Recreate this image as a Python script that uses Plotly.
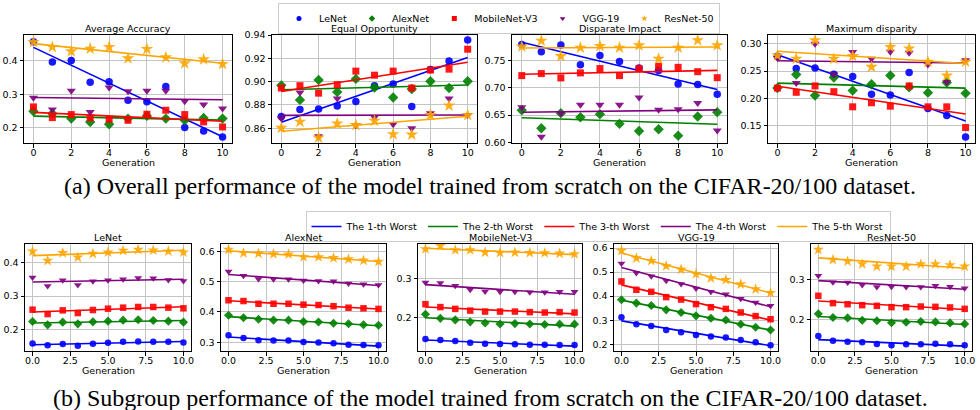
import numpy as np
import plotly.graph_objects as go

# ---------------- data ----------------
generations = list(range(11))
models = ["LeNet", "AlexNet", "MobileNet-V3", "VGG-19", "ResNet-50"]
worst_labels = ["The 1-th Worst", "The 2-th Worst", "The 3-th Worst", "The 4-th Worst", "The 5-th Worst"]
top_titles = ["Average Accuracy", "Equal Opportunity", "Disparate Impact", "Maximum disparity"]
bottom_titles = ["LeNet", "AlexNet", "MobileNet-V3", "VGG-19", "ResNet-50"]

# Top row: rows = LeNet, AlexNet, MobileNet-V3, VGG-19, ResNet-50
avg_accuracy = [
    [0.457, 0.396, 0.401, 0.336, 0.337, 0.282, 0.277, 0.323, 0.200, 0.190, 0.172],
    [0.249, 0.242, 0.227, 0.217, 0.210, 0.227, 0.235, 0.227, 0.222, 0.229, 0.227],
    [0.262, 0.230, 0.239, 0.229, 0.225, 0.222, 0.240, 0.252, 0.239, 0.217, 0.202],
    [0.289, 0.254, 0.310, 0.247, 0.320, 0.309, 0.310, 0.310, 0.279, 0.269, 0.257],
    [0.456, 0.441, 0.428, 0.436, 0.441, 0.407, 0.435, 0.410, 0.392, 0.404, 0.390],
]
equal_opportunity = [
    [0.870, 0.876, 0.8765, 0.879, 0.883, 0.8965, 0.898, 0.8786, 0.9104, 0.9177, 0.9357],
    [0.8968, 0.8843, 0.9014, 0.891, 0.9023, 0.895, 0.8864, 0.8936, 0.9003, 0.8945, 0.9003],
    [0.8945, 0.8965, 0.8901, 0.8974, 0.909, 0.9055, 0.909, 0.8945, 0.9099, 0.9107, 0.9278],
    [0.8684, 0.8907, 0.853, 0.8855, 0.8625, 0.8693, 0.8635, 0.860, 0.8728, 0.8855, 0.8713],
    [0.8603, 0.8655, 0.8519, 0.864, 0.8626, 0.8664, 0.8548, 0.8545, 0.8713, 0.8794, 0.8713],
]
disparate_impact = [
    [0.780, 0.7667, 0.779, 0.7426, 0.7599, 0.7488, 0.737, 0.732, 0.7074, 0.7062, 0.6883],
    [0.659, 0.626, 0.6537, 0.6463, 0.6519, 0.634, 0.621, 0.624, 0.6123, 0.6475, 0.6556],
    [0.7228, 0.7265, 0.7185, 0.7278, 0.7358, 0.7228, 0.7358, 0.740, 0.738, 0.730, 0.719],
    [0.6648, 0.6105, 0.6537, 0.669, 0.669, 0.669, 0.6827, 0.6599, 0.661, 0.6722, 0.6216],
    [0.7762, 0.787, 0.7586, 0.7741, 0.7772, 0.7741, 0.7784, 0.7537, 0.7741, 0.7877, 0.7784],
]
maximum_disparity = [
    [0.277, 0.2549, 0.2555, 0.2444, 0.2402, 0.2076, 0.2064, 0.2475, 0.1818, 0.169, 0.1297],
    [0.2191, 0.2437, 0.2056, 0.2383, 0.2144, 0.226, 0.242, 0.2205, 0.2107, 0.2291, 0.2094],
    [0.219, 0.2113, 0.223, 0.2125, 0.1848, 0.1922, 0.186, 0.223, 0.1848, 0.1848, 0.1469],
    [0.2742, 0.2281, 0.300, 0.2437, 0.2849, 0.2725, 0.2855, 0.2837, 0.2621, 0.2301, 0.2701],
    [0.2785, 0.2725, 0.3063, 0.2725, 0.2774, 0.2577, 0.294, 0.2914, 0.267, 0.2418, 0.267],
]

# Bottom row: rows = 1-th .. 5-th worst subgroup
sub_lenet = [
    [0.160, 0.1545, 0.158, 0.153, 0.159, 0.162, 0.165, 0.166, 0.165, 0.165, 0.163],
    [0.2248, 0.215, 0.223, 0.218, 0.224, 0.226, 0.229, 0.230, 0.228, 0.226, 0.223],
    [0.260, 0.247, 0.258, 0.250, 0.259, 0.263, 0.266, 0.268, 0.268, 0.266, 0.264],
    [0.3555, 0.330, 0.347, 0.333, 0.344, 0.347, 0.350, 0.354, 0.353, 0.348, 0.345],
    [0.4327, 0.405, 0.428, 0.415, 0.426, 0.430, 0.435, 0.438, 0.436, 0.433, 0.430],
]
sub_alexnet = [
    [0.323, 0.314, 0.307, 0.306, 0.306, 0.301, 0.299, 0.297, 0.292, 0.291, 0.290],
    [0.389, 0.381, 0.376, 0.373, 0.373, 0.368, 0.367, 0.363, 0.361, 0.358, 0.356],
    [0.4386, 0.436, 0.427, 0.427, 0.427, 0.424, 0.423, 0.419, 0.414, 0.412, 0.410],
    [0.533, 0.519, 0.509, 0.508, 0.508, 0.504, 0.502, 0.501, 0.494, 0.491, 0.489],
    [0.6055, 0.594, 0.593, 0.591, 0.590, 0.581, 0.581, 0.578, 0.574, 0.570, 0.566],
]
sub_mobilenet = [
    [0.1448, 0.142, 0.1397, 0.1353, 0.1328, 0.132, 0.131, 0.130, 0.130, 0.129, 0.129],
    [0.2086, 0.198, 0.194, 0.189, 0.186, 0.1836, 0.1845, 0.1836, 0.182, 0.183, 0.183],
    [0.2345, 0.227, 0.2224, 0.218, 0.2155, 0.2155, 0.2155, 0.214, 0.213, 0.214, 0.213],
    [0.2905, 0.289, 0.282, 0.2716, 0.2673, 0.2664, 0.2664, 0.2655, 0.2655, 0.2664, 0.2664],
    [0.3767, 0.3853, 0.3741, 0.3741, 0.368, 0.3672, 0.368, 0.3672, 0.3664, 0.3655, 0.3638],
]
sub_vgg = [
    [0.3125, 0.283, 0.276, 0.259, 0.250, 0.239, 0.232, 0.228, 0.218, 0.208, 0.196],
    [0.385, 0.371, 0.361, 0.343, 0.332, 0.318, 0.308, 0.301, 0.283, 0.271, 0.259],
    [0.4611, 0.4264, 0.418, 0.396, 0.386, 0.367, 0.354, 0.347, 0.332, 0.317, 0.304],
    [0.536, 0.496, 0.483, 0.464, 0.450, 0.432, 0.418, 0.408, 0.389, 0.374, 0.360],
    [0.5889, 0.558, 0.547, 0.525, 0.511, 0.492, 0.475, 0.468, 0.450, 0.429, 0.414],
]
sub_resnet = [
    [0.160, 0.1483, 0.1458, 0.1442, 0.140, 0.1367, 0.1392, 0.1392, 0.1408, 0.1392, 0.1367],
    [0.215, 0.206, 0.205, 0.199, 0.198, 0.193, 0.194, 0.196, 0.195, 0.1925, 0.190],
    [0.260, 0.2417, 0.239, 0.2367, 0.235, 0.2317, 0.2317, 0.2333, 0.2325, 0.231, 0.2275],
    [0.310, 0.294, 0.293, 0.287, 0.2817, 0.2825, 0.2817, 0.2817, 0.285, 0.2825, 0.279],
    [0.375, 0.350, 0.3458, 0.339, 0.3333, 0.3333, 0.3333, 0.339, 0.339, 0.3367, 0.3333],
]

caption_a = "(a) Overall performance of the model trained from scratch on the CIFAR-20/100 dataset."
caption_b = "(b) Subgroup performance of the model trained from scratch on the CIFAR-20/100 dataset."

# ---------------- styling ----------------
colors = ["blue", "green", "red", "purple", "orange"]
symbols = ["circle", "diamond", "square", "triangle-down", "star"]
top_sizes = [7.5, 8, 7, 8, 9.5]
bot_sizes = [6.5, 7, 6.5, 7, 8.5]
W, H = 980, 410
FONT = "DejaVu Sans"
FS = 9.5

def fx(p):
    return p / W

def fy(p):
    return 1 - p / H

panels = [
    # (data, title, xbox, ybox, yrange, dtick, yfmt, xdtick, xfmt, sizes)
    (avg_accuracy, top_titles[0], (24, 232), (35, 143), [0.154, 0.477], 0.1, ".1f", 2, "d", top_sizes),
    (equal_opportunity, top_titles[1], (272, 477), (35, 143), [0.8473, 0.940], 0.02, ".2f", 2, "d", top_sizes),
    (disparate_impact, top_titles[2], (512, 727), (35, 143), [0.5988, 0.7975], 0.05, ".2f", 2, "d", top_sizes),
    (maximum_disparity, top_titles[3], (768, 975), (35, 143), [0.1187, 0.316], 0.05, ".2f", 2, "d", top_sizes),
    (sub_lenet, bottom_titles[0], (25, 191), (244, 351), [0.1376, 0.4545], 0.1, ".1f", 2.5, ".1f", bot_sizes),
    (sub_alexnet, bottom_titles[1], (221, 386), (244, 351), [0.2713, 0.624], 0.1, ".1f", 2.5, ".1f", bot_sizes),
    (sub_mobilenet, bottom_titles[2], (418, 582), (244, 351), [0.1138, 0.3897], 0.1, ".1f", 2.5, ".1f", bot_sizes),
    (sub_vgg, bottom_titles[3], (614, 778), (244, 351), [0.172, 0.6167], 0.1, ".1f", 2.5, ".1f", bot_sizes),
    (sub_resnet, bottom_titles[4], (811, 972), (244, 351), [0.1225, 0.389], 0.1, ".1f", 2.5, ".1f", bot_sizes),
]

fig = go.Figure()
layout = {}
annotations = []
x_arr = np.array(generations, dtype=float)

for i, (data, title, xb, yb, yr, dt, yfmt, xdt, xfmt, sizes) in enumerate(panels, start=1):
    xa = "x" if i == 1 else f"x{i}"
    ya = "y" if i == 1 else f"y{i}"
    for k, ys in enumerate(data):
        fig.add_trace(go.Scatter(
            x=generations, y=ys, mode="markers", xaxis=xa, yaxis=ya, showlegend=False,
            marker=dict(symbol=symbols[k], size=sizes[k], color=colors[k], opacity=0.9,
                        line=dict(width=0)),
            hoverinfo="skip"))
        coef = np.polyfit(x_arr, np.array(ys), 1)
        fit = np.polyval(coef, x_arr)
        fig.add_trace(go.Scatter(
            x=generations, y=fit, mode="lines", xaxis=xa, yaxis=ya, showlegend=False,
            line=dict(color=colors[k], width=1.6), hoverinfo="skip"))
    common = dict(showgrid=True, gridcolor="#c4c4c4", gridwidth=1.3, showline=True, mirror=True,
                  linecolor="black", linewidth=1, ticks="outside", ticklen=3.5, tickwidth=1,
                  tickcolor="black", zeroline=False, automargin=False,
                  tickfont=dict(family=FONT, size=FS, color="black"))
    layout["xaxis" if i == 1 else f"xaxis{i}"] = dict(
        domain=[fx(xb[0]), fx(xb[1])], range=[-0.5, 10.5], anchor=ya, tick0=0, dtick=xdt,
        tickformat=xfmt, ticklabelstandoff=-3, **common)
    layout["yaxis" if i == 1 else f"yaxis{i}"] = dict(
        domain=[fy(yb[1]), fy(yb[0])], range=yr, anchor=xa, dtick=dt, tickformat=yfmt, **common)
    cx = fx((xb[0] + xb[1]) / 2)
    annotations.append(dict(text=title, x=cx, y=fy(yb[0]), xref="paper", yref="paper",
                            xanchor="center", yanchor="bottom", showarrow=False, yshift=-1,
                            font=dict(family=FONT, size=FS, color="black")))
    annotations.append(dict(text="Generation", x=cx, y=fy(yb[1] + 19), xref="paper", yref="paper",
                            xanchor="center", yanchor="middle", showarrow=False,
                            font=dict(family=FONT, size=FS, color="black")))

# legend entries
for k, m in enumerate(models):
    fig.add_trace(go.Scatter(x=[None], y=[None], mode="markers", name=m, legend="legend",
                             marker=dict(symbol=symbols[k], size=5, color=colors[k])))
for k, lab in enumerate(worst_labels):
    fig.add_trace(go.Scatter(x=[None], y=[None], mode="lines", name=lab, legend="legend2",
                             line=dict(color=colors[k], width=1.6)))

annotations.append(dict(text=caption_a, x=0.5, y=fy(186), xref="paper", yref="paper",
                        xanchor="center", yanchor="middle", showarrow=False,
                        font=dict(family="Liberation Serif", size=24, color="black")))
annotations.append(dict(text=caption_b, x=0.5, y=fy(398), xref="paper", yref="paper",
                        xanchor="center", yanchor="middle", showarrow=False,
                        font=dict(family="Liberation Serif", size=24, color="black")))

leg_common = dict(orientation="h", bgcolor="white", bordercolor="#cccccc", borderwidth=1,
                  font=dict(family=FONT, size=FS, color="black"), xanchor="center", yanchor="top",
                  itemclick=False, tracegroupgap=0)
fig.update_layout(
    template="none",
    width=W, height=H, margin=dict(l=0, r=0, t=0, b=0, autoexpand=False),
    paper_bgcolor="white", plot_bgcolor="white",
    showlegend=True,
    legend=dict(x=fx(499), y=fy(3), **leg_common),
    legend2=dict(x=fx(598), y=fy(211), **leg_common),
    annotations=annotations,
    **layout,
)

fig.write_html(
    "out.html",
    config={"displayModeBar": False},
    post_script="document.body.style.margin='0';document.body.style.padding='0';"
                "document.body.style.overflow='hidden';",
)
